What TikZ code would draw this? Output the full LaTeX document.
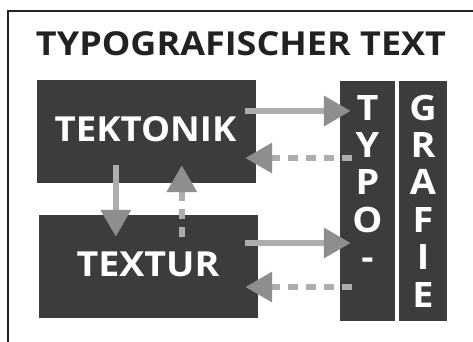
\documentclass[tikz,border=0pt]{standalone}
\usepackage{fontspec}
\setmainfont{Open Sans}
\usetikzlibrary{arrows.meta,calc}
\definecolor{boxgray}{HTML}{3C3C3C}
\definecolor{shaftgray}{HTML}{ADADAD}
\definecolor{headgray}{HTML}{8E8E8E}
\definecolor{framegray}{HTML}{222222}
% slightly widened lettering
\newcommand\widetxt[2][1.08]{\scalebox{#1}[1]{#2}}
\begin{document}
\begin{tikzpicture}[x=1pt,y=1pt,
  darkbox/.style={fill=boxgray,draw=none,inner sep=0pt},
  boxlabel/.style={text=white,inner sep=0pt,anchor=base,font=\bfseries\fontsize{34.5}{34.5}\selectfont},
  colletter/.style={text=white,inner sep=0pt,anchor=base,font=\bfseries\fontsize{35}{35}\selectfont},
  arr/.style={draw=shaftgray,line width=6.5pt,line cap=butt,
    -{Triangle[width=29pt,length=27pt,color=headgray,fill=headgray]}},
  dasharr/.style={arr,dash pattern=on 10pt off 8pt}]
\useasboundingbox (0,0) rectangle (473,-342);
\fill[white] (0,0) rectangle (473,-342);
% outer frame (runs off the page on the right and at the bottom)
\draw[framegray,line width=2pt] (473,-11) -- (8,-11) -- (8,-342);
% heading
\node[anchor=base,inner sep=0pt,text=framegray,font=\bfseries\fontsize{33}{33}\selectfont]
  (title) at (241,-56) {\widetxt[1.09]{TYPOGRAFISCHER TEXT}};
% main blocks
\node[darkbox,minimum width=219pt,minimum height=103pt] (tek) at (146.5,-131.5) {};
\node[darkbox,minimum width=219pt,minimum height=103pt] (tex) at (148.5,-266.5) {};
\node[darkbox,minimum width=55pt,minimum height=240pt] (typo) at (367.5,-201) {};
\node[darkbox,minimum width=48pt,minimum height=240pt] (grafie) at (423,-201) {};
\node[boxlabel] (tektxt) at (145.5,-141) {\widetxt[1.06]{TEKTONIK}};
\node[boxlabel] (textxt) at (148,-276.5) {\widetxt[1.09]{TEXTUR}};
% vertical words
\foreach \ch [count=\i from 0] in {T,Y,P,O,-}
  \node[colletter] (typo\i) at (367.5,-120-37.4*\i) {\widetxt{\ch}};
\foreach \ch [count=\i from 0] in {G,R,A,F,I,E}
  \node[colletter] (grafie\i) at (423,-120-37.4*\i) {\widetxt{\ch}};
% connectors
\coordinate (a1s) at ($(tek.east)+(-11,20.5)$);
\draw[arr] (a1s) -- ($(a1s -| typo.west)+(11,0)$);
\coordinate (a2s) at ($(typo.west |- tek.east)+(12,-26.5)$);
\draw[dasharr] (a2s) -- ($(a2s -| tek.east)+(-11,0)$);
\coordinate (a3s) at ($(tex.east)+(-13,23.5)$);
\draw[arr] (a3s) -- ($(a3s -| typo.west)+(11,0)$);
\coordinate (a4s) at ($(typo.west |- tex.east)+(12,-20.5)$);
\draw[dasharr] (a4s) -- ($(a4s -| tex.east)+(-13,0)$);
\coordinate (a5s) at ($(tek.south west)+(79,18)$);
\draw[arr] (a5s) -- ($(a5s |- tex.north)+(0,-22)$);
\coordinate (a6s) at ($(tex.north west |- tex.north)+(143,-22)$);
\draw[dasharr] (a6s) -- ($(a6s |- tek.south)+(0,18)$);
\end{tikzpicture}
\end{document}
